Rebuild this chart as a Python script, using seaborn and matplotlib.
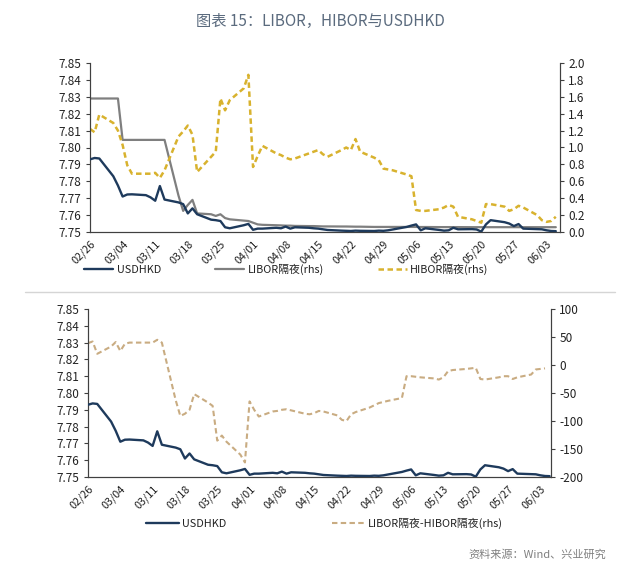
import matplotlib
matplotlib.use("Agg")
import matplotlib.pyplot as plt
import matplotlib.dates as mdates
from matplotlib.lines import Line2D
from matplotlib.ticker import FormatStrFormatter, FixedLocator
import seaborn as sns
import numpy as np
import pandas as pd

# ---------------- data (business days 2020-02-26 .. 2020-06-05) ----------------
dates = pd.bdate_range("2020-02-26", "2020-06-05")

usdhkd = [
    7.7930, 7.7938, 7.7935,
    7.7830, 7.7775, 7.7710, 7.7722, 7.7723, 7.7718, 7.7705, 7.7685, 7.7772, 7.7692,
    7.7675, 7.7665, 7.7610, 7.7640, 7.7605, 7.7573, 7.7570, 7.7565, 7.7528, 7.7522,
    7.7540, 7.7548,
    7.7513, 7.7520, 7.7520, 7.7525, 7.7522, 7.7532, 7.7520, 7.7528, 7.7525, 7.7522,
    7.7520, 7.7516, 7.7512, 7.7508, 7.7507, 7.7506, 7.7508, 7.7507, 7.7506, 7.7508,
    7.7507, 7.7510,
    7.7515, 7.7530, 7.7538, 7.7545, 7.7510, 7.7522, 7.7512, 7.7508, 7.7510, 7.7525,
    7.7516, 7.7517, 7.7515, 7.7502, 7.7545, 7.7570, 7.7558, 7.7550, 7.7535, 7.7547,
    7.7520,
    7.7517, 7.7516, 7.7510, 7.7506, 7.7505,
]

libor = [
    1.58, 1.58, 1.58,
    1.58, 1.58, 1.09, 1.09, 1.09, 1.09, 1.09, 1.09, 1.09, 1.09,
    0.43, 0.25, 0.32, 0.38, 0.22, 0.21, 0.19, 0.21, 0.165, 0.15, 0.135, 0.13,
    0.11, 0.09, 0.085, 0.08, 0.078, 0.075, 0.075, 0.072, 0.07, 0.07, 0.068,
    0.066, 0.066, 0.065, 0.065, 0.064, 0.063, 0.063, 0.06, 0.06, 0.06, 0.06,
    0.06, 0.06, 0.06, 0.06, 0.059, 0.059, 0.058, 0.058, 0.058, 0.058, 0.058,
    0.057, 0.057, 0.057, 0.057, 0.057, 0.057, 0.057, 0.057, 0.057, 0.057,
    0.057, 0.057, 0.057, 0.057, 0.057,
]

hibor = [
    1.22, 1.18, 1.39,
    1.29, 1.20, 1.03, 0.79, 0.69, 0.69, 0.69, 0.70, 0.64, 0.73,
    1.13, 1.19, 1.26, 1.15, 0.71, 0.89, 0.95, 1.58, 1.44, 1.56, 1.70, 1.86,
    0.77, 0.90, 1.02, 0.93, 0.91, 0.88, 0.86, 0.87, 0.93, 0.95, 0.97,
    0.92, 0.89, 0.97, 1.00, 0.97, 1.10, 0.95, 0.88, 0.85, 0.75, 0.74,
    0.73, 0.68, 0.66, 0.26, 0.25, 0.25, 0.27, 0.29, 0.32, 0.30, 0.18,
    0.15, 0.13, 0.11, 0.33, 0.33, 0.30, 0.25, 0.27, 0.31, 0.29,
    0.20, 0.14, 0.12, 0.13, 0.18,
]

spread = [
    39, 42, 20,
    33, 41, 25, 38, 40, 40, 40, 40, 45, 40,
    -63, -91, -87, -80, -52, -67, -73, -135, -126, -137, -160, -174,
    -65, -80, -92, -83, -82, -80, -79, -81, -87, -88, -86,
    -82, -83, -90, -98, -100, -88, -84, -76, -72, -68, -66,
    -64, -59, -20, -20, -21, -22, -24, -26, -22, -11, -9,
    -7, -6, -5, -25, -26, -22, -20, -20, -25, -22,
    -17, -8, -7, -6, np.nan,
]

tick_labels = ["02/26", "03/04", "03/11", "03/18", "03/25", "04/01", "04/08",
               "04/15", "04/22", "04/29", "05/06", "05/13", "05/20", "05/27", "06/03"]

left_ticks = [7.75, 7.76, 7.77, 7.78, 7.79, 7.80, 7.81, 7.82, 7.83, 7.84, 7.85]
rate_ticks = [0.0, 0.2, 0.4, 0.6, 0.8, 1.0, 1.2, 1.4, 1.6, 1.8, 2.0]
spread_ticks = [-200, -150, -100, -50, 0, 50, 100]

names = {
    "usd": "USDHKD",
    "libor": "LIBOR隔夜(rhs)",
    "hibor": "HIBOR隔夜(rhs)",
    "spread": "LIBOR隔夜-HIBOR隔夜(rhs)",
}

df = pd.DataFrame({"date": dates, "USDHKD": usdhkd, "LIBOR": libor,
                   "HIBOR": hibor, "spread": spread})

# ---------------- style ----------------
sns.set_style("white")
plt.rcParams["font.family"] = ["Noto Sans CJK SC", "DejaVu Sans"]
plt.rcParams["axes.unicode_minus"] = True

C_USD = "#1E3A5C"
C_LIB = "#7F7F7F"
C_HIB = "#D8B22E"
C_SPR = "#C9AC82"
SPINE = "#404040"
TICKC = "#222222"

fig = plt.figure(figsize=(6.4, 5.7), dpi=100)

tick_dates = [pd.Timestamp("2020-" + t.replace("/", "-")) for t in tick_labels]
x0 = pd.Timestamp("2020-02-26")


def style_axes(ax, axr, xmax_days):
    for a in (ax, axr):
        a.spines["top"].set_visible(False)
        for s in ("left", "right", "bottom"):
            a.spines[s].set_color(SPINE)
            a.spines[s].set_linewidth(0.8)
        a.set_xlabel("")
        a.set_ylabel("")
    ax.set_xlim(x0, x0 + pd.Timedelta(days=xmax_days))
    ax.set_xticks(tick_dates)
    ax.set_xticklabels(tick_labels, rotation=45, ha="right", rotation_mode="anchor",
                       fontsize=7.8, color=TICKC)
    ax.tick_params(axis="x", direction="out", length=3, width=0.8, color=SPINE, pad=1.5)
    ax.tick_params(axis="y", direction="out", length=3, width=0.8, color=SPINE,
                   labelsize=8.5, labelcolor=TICKC, pad=3)
    axr.tick_params(axis="y", direction="out", length=3, width=0.8, color=SPINE,
                    labelsize=8.5, labelcolor=TICKC, pad=3)
    ax.grid(False)
    axr.grid(False)


# ---------------- top panel ----------------
ax1 = fig.add_axes([90 / 640, 1 - 232 / 570, (560 - 90) / 640, (232 - 63) / 570])
ax1r = ax1.twinx()

sns.lineplot(data=df, x="date", y="USDHKD", ax=ax1, color=C_USD, linewidth=1.7,
             legend=False, zorder=3)
sns.lineplot(data=df, x="date", y="LIBOR", ax=ax1r, color=C_LIB, linewidth=1.6,
             legend=False, zorder=2)
sns.lineplot(data=df, x="date", y="HIBOR", ax=ax1r, color=C_HIB, linewidth=1.8,
             linestyle=(0, (2.2, 1.4)), legend=False, zorder=2)
ax1.set_zorder(ax1r.get_zorder() + 1)
ax1.patch.set_visible(False)

ax1.set_ylim(7.75, 7.85)
ax1.yaxis.set_major_locator(FixedLocator(left_ticks))
ax1.yaxis.set_major_formatter(FormatStrFormatter("%.2f"))
ax1r.set_ylim(0, 2.0)
ax1r.yaxis.set_major_locator(FixedLocator(rate_ticks))
ax1r.yaxis.set_major_formatter(FormatStrFormatter("%.1f"))
style_axes(ax1, ax1r, 100.9)

h_top = [
    Line2D([], [], color=C_USD, linewidth=1.7),
    Line2D([], [], color=C_LIB, linewidth=1.6),
    Line2D([], [], color=C_HIB, linewidth=1.8, linestyle=(0, (2.2, 1.4))),
]
fig.legend(h_top, [names["usd"], names["libor"], names["hibor"]],
           loc="center left", bbox_to_anchor=(84 / 640, 1 - 269 / 570),
           ncol=3, frameon=False, fontsize=7.8, handlelength=2.7,
           handletextpad=0.3, columnspacing=5.0, borderpad=0, borderaxespad=0,
           labelcolor="#222222")

# separator
fig.add_artist(Line2D([25 / 640, 615 / 640], [1 - 292 / 570, 1 - 292 / 570],
                      color="#D5D5D5", linewidth=1.0))

# ---------------- bottom panel ----------------
ax2 = fig.add_axes([88 / 640, 1 - 477 / 570, (551 - 88) / 640, (477 - 309) / 570])
ax2r = ax2.twinx()

sns.lineplot(data=df, x="date", y="USDHKD", ax=ax2, color=C_USD, linewidth=1.7,
             legend=False, zorder=3)
sns.lineplot(data=df, x="date", y="spread", ax=ax2r, color=C_SPR, linewidth=1.5,
             linestyle=(0, (2.6, 1.6)), legend=False, zorder=2)
ax2.set_zorder(ax2r.get_zorder() + 1)
ax2.patch.set_visible(False)

ax2.set_ylim(7.75, 7.85)
ax2.yaxis.set_major_locator(FixedLocator(left_ticks))
ax2.yaxis.set_major_formatter(FormatStrFormatter("%.2f"))
ax2r.set_ylim(-200, 100)
ax2r.yaxis.set_major_locator(FixedLocator(spread_ticks))
ax2r.yaxis.set_major_formatter(FormatStrFormatter("%d"))
style_axes(ax2, ax2r, 100.3)

h_bot = [
    Line2D([], [], color=C_USD, linewidth=1.7),
    Line2D([], [], color=C_SPR, linewidth=1.5, linestyle=(0, (2.6, 1.6))),
]
fig.legend(h_bot, [names["usd"], names["spread"]],
           loc="center left", bbox_to_anchor=(146 / 640, 1 - 523 / 570),
           ncol=2, frameon=False, fontsize=7.8, handlelength=3.0,
           handletextpad=0.3, columnspacing=9.8, borderpad=0, borderaxespad=0,
           labelcolor="#222222")

# ---------------- title & source ----------------
fig.text(0.5, 1 - 21 / 570, "图表 15：LIBOR，HIBOR与USDHKD", ha="center", va="center",
         fontsize=11, color="#5B6B7E")
fig.text(606 / 640, 1 - 555 / 570, "资料来源：Wind、兴业研究", ha="right", va="center",
         fontsize=8, color="#808080")

fig.savefig("out.png", dpi=100)
